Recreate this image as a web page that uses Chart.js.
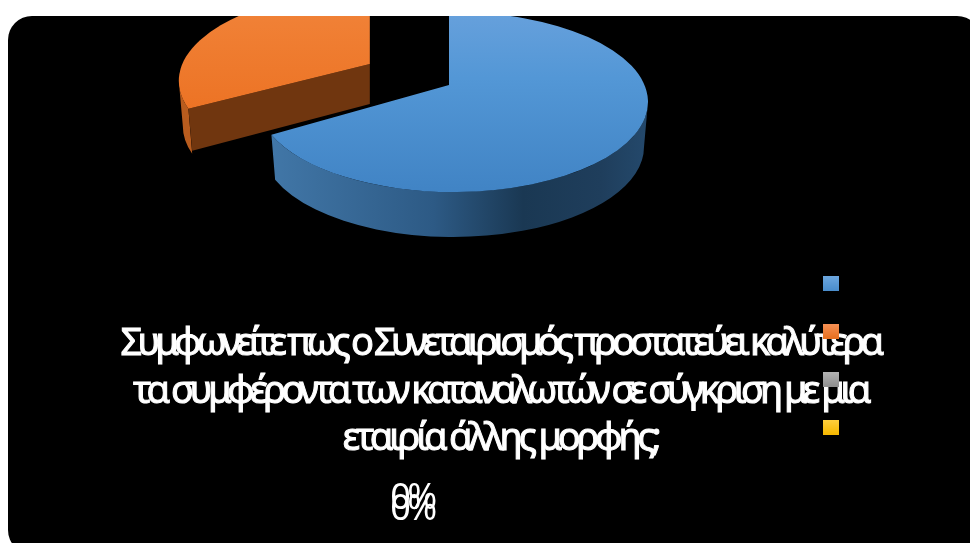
<!DOCTYPE html>
<html lang="el">
<head>
<meta charset="utf-8">
<title>Συνεταιρισμός</title>
<style>
    html, body { margin: 0; padding: 0; background: #fff; }
    canvas { display: block; }
</style>
<script src="https://cdn.jsdelivr.net/npm/chart.js@4"></script>
</head>
<body>
<canvas id="pie" width="970" height="543"></canvas>
<script>
(function () {
    'use strict';

    // Answer categories have no visible captions, only their colour keys
    var categories = ['', '', '', ''];
    var shares = [67, 33, 0, 0];
    var titleLines = [
        'Συμφωνείτε πως ο Συνεταιρισμός προστατεύει καλύτερα',
        'τα συμφέροντα των καταναλωτών σε σύγκριση με μια',
        'εταιρία άλλης μορφής;'
    ];
    var titleTracking = ['-4.85px', '-4.5px', '-4.2px'];

    var colors = ['#5b9bd5', '#ed7d31', '#a5a5a5', '#ffc000'];
    var keyTop = ['#6ea8e0', '#f79257', '#b5b5b5', '#ffd040'];
    var keyBottom = ['#4a8dcc', '#e8701f', '#8f8f8f', '#f5b800'];

    // Tilted disc: outline of the top face, the lower rim and the hub
    var disc = { cx: 453, cy: 102, rx: 195, ry: 90, lowRx: 191, lowRy: 90, depth: 45 };
    var hub = { x: 449, y: 85, squash: 0.51, explodedSquash: 0.45 };

    function rimAngle(theta, squash) {
        // Walk along the spoke from the hub until it leaves the ellipse
        var dx = Math.cos(theta) / disc.rx;
        var dy = Math.sin(theta) * squash / disc.ry;
        var px = (hub.x - disc.cx) / disc.rx;
        var py = (hub.y - disc.cy) / disc.ry;
        var a = dx * dx + dy * dy;
        var b = 2 * (px * dx + py * dy);
        var c = px * px + py * py - 1;
        var s = (-b + Math.sqrt(b * b - 4 * a * c)) / (2 * a);
        return Math.atan2(py + dy * s, px + dx * s);
    }

    function topFill(ctx, index) {
        var g = ctx.createLinearGradient(0, 0, 0, 195);
        if (index === 0) {
            g.addColorStop(0, '#6aa2dd');
            g.addColorStop(0.4, '#5397d6');
            g.addColorStop(1, '#4083c4');
        } else {
            g.addColorStop(0, '#f18339');
            g.addColorStop(0.6, '#ec7223');
            g.addColorStop(1, '#e86c1b');
        }
        return g;
    }

    function wallFill(ctx, index, ox) {
        if (index !== 0) return '#b85c1e';
        var g = ctx.createLinearGradient(disc.cx - disc.rx + ox, 0, disc.cx + disc.rx + ox, 0);
        g.addColorStop(0, '#4379aa');
        g.addColorStop(0.45, '#2d5a85');
        g.addColorStop(0.68, '#1a3853');
        g.addColorStop(0.88, '#1f3e5c');
        g.addColorStop(1, '#24496c');
        return g;
    }

    function drawCutFace(ctx, ox, oy, t) {
        var x = disc.cx + ox;
        var y = disc.cy + oy;
        ctx.beginPath();
        ctx.moveTo(hub.x + ox, hub.y + oy);
        ctx.lineTo(x + disc.rx * Math.cos(t), y + disc.ry * Math.sin(t));
        ctx.lineTo(x + disc.lowRx * Math.cos(t), y + disc.depth + disc.lowRy * Math.sin(t) - 3);
        ctx.lineTo(hub.x + ox, hub.y + oy + disc.depth - 5);
        ctx.closePath();
        ctx.fillStyle = '#70360f';
        ctx.fill();
    }

    function drawSlice(ctx, arc, index) {
        var theta0 = arc.startAngle;
        var theta1 = arc.endAngle;
        if (theta1 - theta0 < 0.001) return;

        // Exploded slices move along the spoke through their middle
        var mid = (theta0 + theta1) / 2;
        var explode = arc.options.offset || 0;
        var squash = explode ? hub.explodedSquash : hub.squash;
        var ox = Math.cos(mid) * explode;
        var oy = Math.sin(mid) * explode * squash;
        var x = disc.cx + ox;
        var y = disc.cy + oy;

        var t0 = rimAngle(theta0, squash);
        var t1 = rimAngle(theta1, squash);
        while (t1 <= t0) t1 += Math.PI * 2;

        // Outer wall is only seen on the front half of the disc
        var from = Math.max(t0, 0);
        var to = Math.min(t1, Math.PI);
        if (to > from) {
            ctx.beginPath();
            ctx.ellipse(x, y, disc.rx, disc.ry, 0, from, to);
            ctx.ellipse(x, y + disc.depth, disc.lowRx, disc.lowRy, 0, to, from, true);
            ctx.closePath();
            ctx.fillStyle = wallFill(ctx, index, ox);
            ctx.fill();
        }

        if (Math.sin(theta0 - Math.PI / 2) > 0.01) drawCutFace(ctx, ox, oy, t0);

        ctx.beginPath();
        ctx.moveTo(hub.x + ox, hub.y + oy);
        ctx.ellipse(x, y, disc.rx, disc.ry, 0, t0, t1);
        ctx.closePath();
        ctx.fillStyle = topFill(ctx, index);
        ctx.fill();
    }

    // =========================================================================
    // Plugin: card and caption below the legend, tilted slices
    // =========================================================================

    var tiltedPie = {
        id: 'tiltedPie',
        beforeDraw: function (chart) {
            var ctx = chart.ctx;
            ctx.save();
            ctx.beginPath();
            ctx.roundRect(8, 16, 973, 538, 24);
            ctx.fillStyle = '#000';
            ctx.fill();

            ctx.fillStyle = '#fff';
            ctx.strokeStyle = '#fff';
            ctx.lineWidth = 1;
            ctx.textAlign = 'center';
            ctx.textBaseline = 'alphabetic';
            ctx.font = '38px "Noto Sans"';
            titleLines.forEach(function (line, i) {
                ctx.letterSpacing = titleTracking[i];
                ctx.fillText(line, 500, 355 + i * 47.5);
                ctx.strokeText(line, 500, 355 + i * 47.5);
            });

            // Empty answers still print their share, stacked near the same spot
            ctx.font = '36px "Noto Sans"';
            ctx.letterSpacing = '-3.5px';
            var row = 0;
            shares.forEach(function (value) {
                if (value !== 0) return;
                ctx.fillText(value + '%', 412, 509 + row * 11);
                row++;
            });
            ctx.restore();
        },
        beforeDatasetsDraw: function (chart) {
            var ctx = chart.ctx;
            var arcs = chart.getDatasetMeta(0).data;
            ctx.save();
            ctx.beginPath();
            ctx.roundRect(8, 16, 973, 538, 24);
            ctx.clip();
            arcs.forEach(function (arc, i) {
                drawSlice(ctx, arc, i);
            });
            ctx.restore();
            return false;
        }
    };

    function keySwatch(index) {
        var swatch = document.createElement('canvas');
        swatch.width = 16;
        swatch.height = 15;
        var c = swatch.getContext('2d');
        var g = c.createLinearGradient(0, 0, 0, 15);
        g.addColorStop(0, keyTop[index]);
        g.addColorStop(1, keyBottom[index]);
        c.fillStyle = g;
        c.fillRect(0, 0, 16, 15);
        return swatch;
    }

    new Chart(document.getElementById('pie'), {
        type: 'pie',
        data: {
            labels: categories,
            datasets: [{
                data: shares,
                backgroundColor: colors,
                offset: [0, 92, 0, 0],
                borderWidth: 0
            }]
        },
        plugins: [tiltedPie],
        options: {
            responsive: false,
            animation: false,
            layout: { padding: { top: 167, right: 113 } },
            plugins: {
                tooltip: { enabled: false },
                legend: {
                    position: 'right',
                    labels: {
                        usePointStyle: true,
                        pointStyleWidth: 16,
                        boxHeight: 15,
                        padding: 32,
                        font: { size: 16 },
                        generateLabels: function () {
                            return categories.map(function (name, i) {
                                return { text: name, pointStyle: keySwatch(i), lineWidth: 0, index: i };
                            });
                        }
                    }
                }
            }
        }
    });
})();
</script>
</body>
</html>
